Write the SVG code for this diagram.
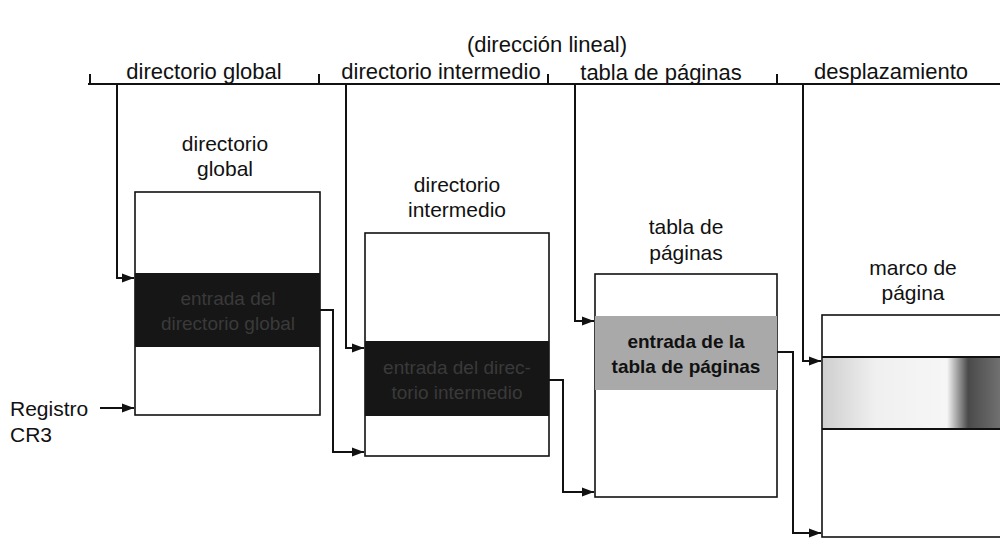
<svg xmlns="http://www.w3.org/2000/svg" width="1000" height="539" viewBox="0 0 1000 539">
<defs>
<style>
text{font-family:"Liberation Sans",Arial,sans-serif;font-size:21px;fill:#111}
.c{text-anchor:middle}
.top{font-size:22px}
.ln{fill:none;stroke:#111;stroke-width:2}
.box{fill:#fff;stroke:#111;stroke-width:1.6}
.dark{fill:#161616}
.dt{fill:#3a3a3a;font-size:19px}
.gt{fill:#111;font-size:19px;font-weight:bold}
</style>
<marker id="ah" viewBox="0 0 12 10" refX="12" refY="5" markerWidth="12" markerHeight="10" markerUnits="userSpaceOnUse" orient="auto">
<path d="M0,0.5 L12,5 L0,9.5 Z" fill="#111"/>
</marker>
<linearGradient id="g4" x1="0" x2="1" y1="0" y2="0">
<stop offset="0" stop-color="#cfcfcf"/>
<stop offset="0.3" stop-color="#f0f0f0"/>
<stop offset="0.7" stop-color="#f6f6f6"/>
<stop offset="0.82" stop-color="#4a4a4a"/>
<stop offset="1" stop-color="#707070"/>
</linearGradient>
</defs>
<rect width="1000" height="539" fill="#fff"/>

<g id="linear-address">
<text class="c top" x="547" y="52">(dirección lineal)</text>
<path class="ln" d="M88,84 H1000" stroke-width="1.6"/>
<path class="ln" d="M90,74 V84 M319,74 V84 M548,74 V84 M777,74 V84" stroke-width="1.2"/>
<text class="c top" x="204" y="79">directorio global</text>
<text class="c top" x="441" y="79">directorio intermedio</text>
<text class="c top" x="661" y="80">tabla de páginas</text>
<text class="c top" x="891" y="79">desplazamiento</text>
</g>

<g id="box-global">
<text class="c" x="225" y="151">directorio</text>
<text class="c" x="225" y="176">global</text>
<rect class="box" x="135" y="192" width="185" height="223"/>
<rect class="dark" x="135" y="273" width="185" height="74"/>
<text class="c dt" x="228" y="305">entrada del</text>
<text class="c dt" x="228" y="330">directorio global</text>
</g>

<g id="box-intermedio">
<text class="c" x="457" y="192">directorio</text>
<text class="c" x="457" y="217">intermedio</text>
<rect class="box" x="365" y="233" width="184" height="223"/>
<rect class="dark" x="365" y="341" width="184" height="75"/>
<text class="c dt" x="457" y="374">entrada del direc-</text>
<text class="c dt" x="457" y="399">torio intermedio</text>
</g>

<g id="box-tabla">
<text class="c" x="686" y="234">tabla de</text>
<text class="c" x="686" y="260">páginas</text>
<rect class="box" x="595" y="274" width="182" height="223"/>
<rect x="595" y="316" width="182" height="74" fill="#a9a9a9"/>
<text class="c gt" x="686" y="348">entrada de la</text>
<text class="c gt" x="686" y="373">tabla de páginas</text>
</g>

<g id="box-marco">
<text class="c" x="913" y="275">marco de</text>
<text class="c" x="913" y="300">página</text>
<rect class="box" x="822" y="315" width="190" height="222"/>
<rect x="823" y="357" width="177" height="72" fill="url(#g4)"/>
<path class="ln" d="M822,357 H1000 M822,429 H1000" stroke-width="1.6"/>
</g>

<g id="registro">
<text x="10" y="416">Registro</text>
<text x="10" y="442">CR3</text>
</g>

<g id="connectors">
<path class="ln" d="M100,408 H134" marker-end="url(#ah)"/>
<path class="ln" d="M117,84 V278 H134" marker-end="url(#ah)"/>
<path class="ln" d="M346,84 V348 H364" marker-end="url(#ah)"/>
<path class="ln" d="M575,84 V321 H594" marker-end="url(#ah)"/>
<path class="ln" d="M803,84 V361 H821" marker-end="url(#ah)"/>
<path class="ln" d="M320,310 H333 V452 H364" marker-end="url(#ah)"/>
<path class="ln" d="M549,380 H563 V492 H594" marker-end="url(#ah)"/>
<path class="ln" d="M777,352 H793 V533 H821" marker-end="url(#ah)"/>
</g>
</svg>
